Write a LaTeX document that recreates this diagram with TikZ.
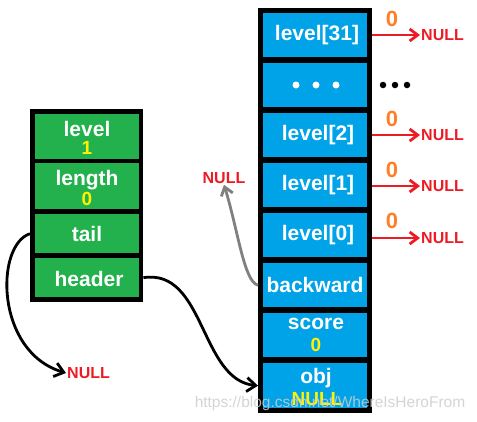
\documentclass[tikz,border=0pt]{standalone}
\usepackage{fontspec}
\setmainfont{Liberation Sans}
\usetikzlibrary{arrows.meta}
\definecolor{pgreen}{RGB}{34,177,76}
\definecolor{pblue}{RGB}{0,162,232}
\definecolor{pred}{RGB}{237,28,36}
\definecolor{pyellow}{RGB}{255,242,0}
\definecolor{porange}{RGB}{255,127,39}
\definecolor{pgray}{RGB}{128,128,128}
\definecolor{wmgray}{RGB}{205,205,205}
\begin{document}
\begin{tikzpicture}[x=1pt,y=-1pt,
  frame/.style={fill=black,draw=none,inner sep=0pt,anchor=north west},
  gcell/.style={fill=pgreen,draw=none,inner sep=0pt,anchor=north west,minimum width=104pt},
  bcell/.style={fill=pblue,draw=none,inner sep=0pt,anchor=north west,minimum width=104pt,minimum height=44pt},
  lbl/.style={text=white,inner sep=0pt,font=\bfseries\fontsize{21}{23}\selectfont},
  val/.style={text=pyellow,inner sep=0pt,font=\bfseries\fontsize{19}{21}\selectfont},
  zero/.style={text=porange,inner sep=0pt,font=\bfseries\fontsize{22}{24}\selectfont},
  nul/.style={text=pred,inner sep=1pt,font=\bfseries\fontsize{16}{18}\selectfont},
  redarrow/.style={draw=pred,line width=2.8pt,-{Straight Barb[length=8pt,width=12pt]}},
  blackarrow/.style={draw=black,line width=2.8pt,-{Straight Barb[length=9pt,width=14pt]}},
  grayarrow/.style={draw=pgray,line width=2.8pt,-{Straight Barb[length=8pt,width=12pt]}},
  dotw/.style={circle,fill=white,inner sep=0pt,minimum size=7pt},
  dotb/.style={circle,fill=black,inner sep=0pt,minimum size=6.5pt},
  wm/.style={text=wmgray,opacity=0.85,inner sep=0pt,font=\fontsize{15.5}{17}\selectfont}
]
\fill[white] (0,0) rectangle (477,421);
\path[use as bounding box] (0,0) rectangle (477,421);

% left structure
\node[frame,minimum width=113pt,minimum height=193pt] (lbox) at (30,109) {};
\node[gcell,minimum height=45pt] (clevel) at (35,114) {};
\node[gcell,minimum height=46pt] (clength) at (35,163) {};
\node[gcell,minimum height=39pt] (ctail) at (35,214) {};
\node[gcell,minimum height=39pt] (cheader) at (35,258) {};
\node[lbl] (tlevel) at (87,129) {level};
\node[val] (vlevel) at (87,148) {1};
\node[lbl] (tlength) at (87,180) {length};
\node[val] (vlength) at (87,199) {0};
\node[lbl] (ttail) at (87,234) {tail};
\node[lbl] (theader) at (89,279) {header};

% right structure
\node[frame,minimum width=114pt,minimum height=405pt] (rbox) at (258,8) {};
\node[bcell] (r31) at (263,13) {};
\node[bcell] (rdots) at (263,63) {};
\node[bcell] (r2) at (263,113) {};
\node[bcell] (r1) at (263,163) {};
\node[bcell] (r0) at (263,213) {};
\node[bcell] (rback) at (263,263) {};
\node[bcell] (rscore) at (263,313) {};
\node[bcell,minimum height=45pt] (robj) at (263,363) {};
\node[lbl] (t31) at (317,35) {level[31]};
\node[dotw] (dw1) at (296,85) {};
\node[dotw] (dw2) at (316,85) {};
\node[dotw] (dw3) at (336,85) {};
\node[lbl] (t2) at (318,135) {level[2]};
\node[lbl] (t1) at (318,185) {level[1]};
\node[lbl] (t0) at (318,235) {level[0]};
\node[lbl] (tback) at (315,285) {backward};
\node[lbl] (tscore) at (316,324) {score};
\node[val] (vscore) at (316,345) {0};
\node[lbl] (tobj) at (316,378) {obj};
\node[val] (vobj) at (317,399) {NULL};

% outer dots
\node[dotb] (db1) at (383,85) {};
\node[dotb] (db2) at (395,85) {};
\node[dotb] (db3) at (407,85) {};

% level pointers
\node[nul,anchor=west] (n31) at (420,35) {NULL};
\node[nul,anchor=west] (n2) at (420,135) {NULL};
\node[nul,anchor=west] (n1) at (420,186) {NULL};
\node[nul,anchor=west] (n0) at (420,238) {NULL};
\node[zero] (z31) at (392,19) {0};
\node[zero] (z2) at (392,119) {0};
\node[zero] (z1) at (392,170) {0};
\node[zero] (z0) at (392,221) {0};
\draw[redarrow] (rbox.east |- n31.west) -- (n31.west);
\draw[redarrow] (rbox.east |- n2.west) -- (n2.west);
\draw[redarrow] (rbox.east |- n1.west) -- (n1.west);
\draw[redarrow] (rbox.east |- n0.west) -- (n0.west);

% backward pointer
\node[nul] (nback) at (224,178) {NULL};
\draw[grayarrow] (rbox.west |- rback.center) .. controls (244,282) and (238,230) .. (nback.south);

% tail pointer
\node[nul,anchor=west] (ntail) at (66,373) {NULL};
\draw[blackarrow] (lbox.west |- ctail.center) .. controls (-5,245) and (-5,352) .. (ntail.west);

% header pointer
\draw[blackarrow] (lbox.east |- cheader.center) .. controls (205,268) and (200,380) .. (rbox.west |- robj.center);

% watermark
\node[wm] (wmark) at (330,403) {https://blog.csdn.net/WhereIsHeroFrom};
\end{tikzpicture}
\end{document}
